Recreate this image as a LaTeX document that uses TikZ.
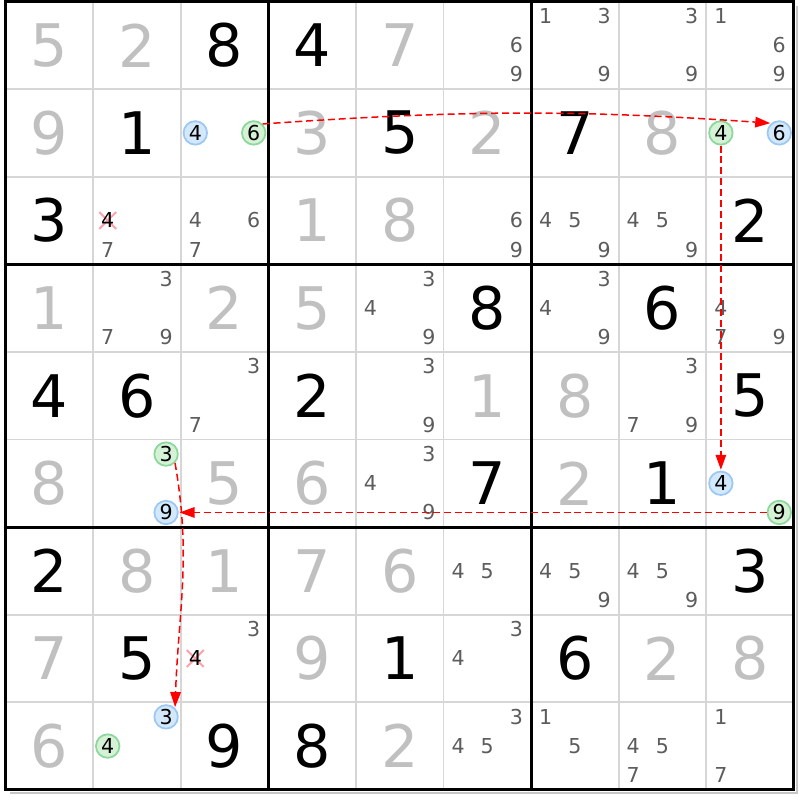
\documentclass[tikz,border=0pt]{standalone}
\usepackage{fontspec}
\setmainfont{DejaVu Sans}
\usetikzlibrary{arrows.meta}

\definecolor{solvedgray}{HTML}{C0C0C0}
\definecolor{candgray}{HTML}{5C5C5C}
\definecolor{gridgray}{HTML}{D6D6D6}
\definecolor{onfill}{HTML}{D4E8FC}
\definecolor{ondraw}{HTML}{9CC8F4}
\definecolor{offfill}{HTML}{D6F2D6}
\definecolor{offdraw}{HTML}{8CD89C}
\definecolor{strikepink}{HTML}{FFA0A8}

\begin{document}
\begin{tikzpicture}[x=0.292cm,y=-0.292cm]
 	\def \cluesize{\fontsize{33.4}{34}\selectfont}
 	\def \candsize{\fontsize{11.7}{12}\selectfont}
 	\def \edge{54}
% 	one cell = 6 units

 	\tikzstyle{clue}=[font=\cluesize,text=black,inner sep=0pt]
 	\tikzstyle{solved}=[font=\cluesize,text=solvedgray,inner sep=0pt]
 	\tikzstyle{cand}=[font=\candsize,text=candgray,inner sep=0pt]
 	\tikzstyle{struck}=[font=\candsize,text=black,inner sep=0pt]
 	\tikzstyle{on-cand}=[circle,draw=ondraw,fill=onfill,line width=1pt,minimum size=4.7mm,inner sep=0pt,font=\candsize,text=black]
 	\tikzstyle{off-cand}=[circle,draw=offdraw,fill=offfill,line width=1pt,minimum size=4.7mm,inner sep=0pt,font=\candsize,text=black]
 	\tikzstyle{strike}=[draw=strikepink,line width=1.1pt]
 	\tikzstyle{thin-line}=[draw=gridgray,line width=1.1pt]
 	\tikzstyle{box-line}=[draw=black,line width=1.7pt]
 	\tikzstyle{link}=[draw=red,dash pattern=on 4pt off 2.2pt,line width=0.85pt,-{Triangle[length=3mm,width=2.1mm]},shorten >=0.5pt]

 	\useasboundingbox (-0.377,-0.103) rectangle (54.42,54.69);
 	\fill[white] (-0.377,-0.103) rectangle (54.42,54.69);

 	% grid
 	\draw[thin-line] (6,0) -- (6,\edge);
 	\draw[thin-line] (12,0) -- (12,\edge);
 	\draw[thin-line] (24,0) -- (24,\edge);
 	\draw[thin-line] (30,0) -- (30,\edge);
 	\draw[thin-line] (42,0) -- (42,\edge);
 	\draw[thin-line] (48,0) -- (48,\edge);
 	\draw[thin-line] (0,6) -- (\edge,6);
 	\draw[thin-line] (0,12) -- (\edge,12);
 	\draw[thin-line] (0,24) -- (\edge,24);
 	\draw[thin-line] (0,30) -- (\edge,30);
 	\draw[thin-line] (0,42) -- (\edge,42);
 	\draw[thin-line] (0,48) -- (\edge,48);
 	\draw[draw=gray!45,line width=0.8pt] (0.3,54.22) -- (54.22,54.22) -- (54.22,0.3);
 	\draw[box-line] (18,0) -- (18,\edge);
 	\draw[box-line] (36,0) -- (36,\edge);
 	\draw[box-line] (0,18) -- (\edge,18);
 	\draw[box-line] (0,36) -- (\edge,36);
 	\draw[box-line] (0,0) rectangle (\edge,\edge);

 	% struck candidates
 	\coordinate (x214) at (7,15);
 	\coordinate (x724) at (13,45);
 	\draw[strike] (x214) ++(-0.58,-0.58) -- ++(1.16,1.16) (x214) ++(-0.58,0.58) -- ++(1.16,-1.16);
 	\draw[strike] (x724) ++(-0.58,-0.58) -- ++(1.16,1.16) (x724) ++(-0.58,0.58) -- ++(1.16,-1.16);

 	% row 0
 	\node[solved]	(n00)	at (3,3)	{5};
 	\node[solved]	(n01)	at (9,3)	{2};
 	\node[clue]	(n02)	at (15,3)	{8};
 	\node[clue]	(n03)	at (21,3)	{4};
 	\node[solved]	(n04)	at (27,3)	{7};
 	\node[cand]	(c056)	at (35,3)	{6};
 	\node[cand]	(c059)	at (35,5)	{9};
 	\node[cand]	(c061)	at (37,1)	{1};
 	\node[cand]	(c063)	at (41,1)	{3};
 	\node[cand]	(c069)	at (41,5)	{9};
 	\node[cand]	(c073)	at (47,1)	{3};
 	\node[cand]	(c079)	at (47,5)	{9};
 	\node[cand]	(c081)	at (49,1)	{1};
 	\node[cand]	(c086)	at (53,3)	{6};
 	\node[cand]	(c089)	at (53,5)	{9};

 	% row 1
 	\node[solved]	(n10)	at (3,9)	{9};
 	\node[clue]	(n11)	at (9,9)	{1};
 	\node[on-cand]	(b124)	at (13,9)	{4};
 	\node[off-cand]	(g126)	at (17,9)	{6};
 	\node[solved]	(n13)	at (21,9)	{3};
 	\node[clue]	(n14)	at (27,9)	{5};
 	\node[solved]	(n15)	at (33,9)	{2};
 	\node[clue]	(n16)	at (39,9)	{7};
 	\node[solved]	(n17)	at (45,9)	{8};
 	\node[off-cand]	(g184)	at (49,9)	{4};
 	\node[on-cand]	(b186)	at (53,9)	{6};

 	% row 2
 	\node[clue]	(n20)	at (3,15)	{3};
 	\node[struck]	(c214)	at (x214)	{4};
 	\node[cand]	(c217)	at (7,17)	{7};
 	\node[cand]	(c224)	at (13,15)	{4};
 	\node[cand]	(c226)	at (17,15)	{6};
 	\node[cand]	(c227)	at (13,17)	{7};
 	\node[solved]	(n23)	at (21,15)	{1};
 	\node[solved]	(n24)	at (27,15)	{8};
 	\node[cand]	(c256)	at (35,15)	{6};
 	\node[cand]	(c259)	at (35,17)	{9};
 	\node[cand]	(c264)	at (37,15)	{4};
 	\node[cand]	(c265)	at (39,15)	{5};
 	\node[cand]	(c269)	at (41,17)	{9};
 	\node[cand]	(c274)	at (43,15)	{4};
 	\node[cand]	(c275)	at (45,15)	{5};
 	\node[cand]	(c279)	at (47,17)	{9};
 	\node[clue]	(n28)	at (51,15)	{2};

 	% row 3
 	\node[solved]	(n30)	at (3,21)	{1};
 	\node[cand]	(c313)	at (11,19)	{3};
 	\node[cand]	(c317)	at (7,23)	{7};
 	\node[cand]	(c319)	at (11,23)	{9};
 	\node[solved]	(n32)	at (15,21)	{2};
 	\node[solved]	(n33)	at (21,21)	{5};
 	\node[cand]	(c343)	at (29,19)	{3};
 	\node[cand]	(c344)	at (25,21)	{4};
 	\node[cand]	(c349)	at (29,23)	{9};
 	\node[clue]	(n35)	at (33,21)	{8};
 	\node[cand]	(c363)	at (41,19)	{3};
 	\node[cand]	(c364)	at (37,21)	{4};
 	\node[cand]	(c369)	at (41,23)	{9};
 	\node[clue]	(n37)	at (45,21)	{6};
 	\node[cand]	(c384)	at (49,21)	{4};
 	\node[cand]	(c387)	at (49,23)	{7};
 	\node[cand]	(c389)	at (53,23)	{9};

 	% row 4
 	\node[clue]	(n40)	at (3,27)	{4};
 	\node[clue]	(n41)	at (9,27)	{6};
 	\node[cand]	(c423)	at (17,25)	{3};
 	\node[cand]	(c427)	at (13,29)	{7};
 	\node[clue]	(n43)	at (21,27)	{2};
 	\node[cand]	(c443)	at (29,25)	{3};
 	\node[cand]	(c449)	at (29,29)	{9};
 	\node[solved]	(n45)	at (33,27)	{1};
 	\node[solved]	(n46)	at (39,27)	{8};
 	\node[cand]	(c473)	at (47,25)	{3};
 	\node[cand]	(c477)	at (43,29)	{7};
 	\node[cand]	(c479)	at (47,29)	{9};
 	\node[clue]	(n48)	at (51,27)	{5};

 	% row 5
 	\node[solved]	(n50)	at (3,33)	{8};
 	\node[off-cand]	(g513)	at (11,31)	{3};
 	\node[on-cand]	(b519)	at (11,35)	{9};
 	\node[solved]	(n52)	at (15,33)	{5};
 	\node[solved]	(n53)	at (21,33)	{6};
 	\node[cand]	(c543)	at (29,31)	{3};
 	\node[cand]	(c544)	at (25,33)	{4};
 	\node[cand]	(c549)	at (29,35)	{9};
 	\node[clue]	(n55)	at (33,33)	{7};
 	\node[solved]	(n56)	at (39,33)	{2};
 	\node[clue]	(n57)	at (45,33)	{1};
 	\node[on-cand]	(b584)	at (49,33)	{4};
 	\node[off-cand]	(g589)	at (53,35)	{9};

 	% row 6
 	\node[clue]	(n60)	at (3,39)	{2};
 	\node[solved]	(n61)	at (9,39)	{8};
 	\node[solved]	(n62)	at (15,39)	{1};
 	\node[solved]	(n63)	at (21,39)	{7};
 	\node[solved]	(n64)	at (27,39)	{6};
 	\node[cand]	(c654)	at (31,39)	{4};
 	\node[cand]	(c655)	at (33,39)	{5};
 	\node[cand]	(c664)	at (37,39)	{4};
 	\node[cand]	(c665)	at (39,39)	{5};
 	\node[cand]	(c669)	at (41,41)	{9};
 	\node[cand]	(c674)	at (43,39)	{4};
 	\node[cand]	(c675)	at (45,39)	{5};
 	\node[cand]	(c679)	at (47,41)	{9};
 	\node[clue]	(n68)	at (51,39)	{3};

 	% row 7
 	\node[solved]	(n70)	at (3,45)	{7};
 	\node[clue]	(n71)	at (9,45)	{5};
 	\node[cand]	(c723)	at (17,43)	{3};
 	\node[struck]	(c724)	at (x724)	{4};
 	\node[solved]	(n73)	at (21,45)	{9};
 	\node[clue]	(n74)	at (27,45)	{1};
 	\node[cand]	(c753)	at (35,43)	{3};
 	\node[cand]	(c754)	at (31,45)	{4};
 	\node[clue]	(n76)	at (39,45)	{6};
 	\node[solved]	(n77)	at (45,45)	{2};
 	\node[solved]	(n78)	at (51,45)	{8};

 	% row 8
 	\node[solved]	(n80)	at (3,51)	{6};
 	\node[on-cand]	(b813)	at (11,49)	{3};
 	\node[off-cand]	(g814)	at (7,51)	{4};
 	\node[clue]	(n82)	at (15,51)	{9};
 	\node[clue]	(n83)	at (21,51)	{8};
 	\node[solved]	(n84)	at (27,51)	{2};
 	\node[cand]	(c853)	at (35,49)	{3};
 	\node[cand]	(c854)	at (31,51)	{4};
 	\node[cand]	(c855)	at (33,51)	{5};
 	\node[cand]	(c861)	at (37,49)	{1};
 	\node[cand]	(c865)	at (39,51)	{5};
 	\node[cand]	(c874)	at (43,51)	{4};
 	\node[cand]	(c875)	at (45,51)	{5};
 	\node[cand]	(c877)	at (43,53)	{7};
 	\node[cand]	(c881)	at (49,49)	{1};
 	\node[cand]	(c887)	at (49,53)	{7};

 	% chain
 	\draw[link] (g126.45) to[out=4,in=176] (b186.130);
 	\draw[link] (g184) -- (b584);
 	\draw[link] (g589) -- (b519);
 	\draw[link] (g513.-45) to[out=-80,in=88] (b813.45);

\end{tikzpicture}
\end{document}
